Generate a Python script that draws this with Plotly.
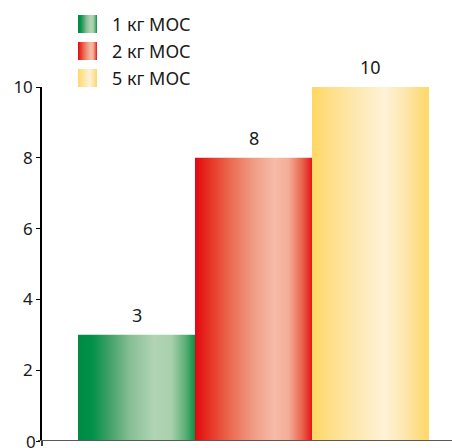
import plotly.graph_objects as go

# Data
categories = ["1 кг МОС", "2 кг МОС", "5 кг МОС"]
values = [3, 8, 10]
y_ticks = [0, 2, 4, 6, 8, 10]

# Horizontal gradient for each series (cylinder-like shading)
gradients = [
    [[0, "#008a43"], [0.12, "#009149"], [0.25, "#3a9e62"], [0.45, "#88bf95"],
     [0.65, "#b1d4b4"], [0.8, "#a9d0ad"], [0.92, "#5aae74"], [1, "#0b8f47"]],
    [[0, "#e30613"], [0.1, "#e52b1e"], [0.3, "#ea6a50"], [0.5, "#f09c85"],
     [0.68, "#f6bba8"], [0.8, "#f3ad98"], [0.92, "#e9614a"], [1, "#e4141b"]],
    [[0, "#ffd763"], [0.15, "#fedf86"], [0.4, "#fde9b4"], [0.62, "#fff2d6"],
     [0.8, "#fde6ad"], [0.92, "#fedc80"], [1, "#ffd966"]],
]

FONT = "Noto Sans"
W, H = 452, 448
M_L, M_R, M_T, M_B = 42, 0, 10, 7
plot_h = H - M_T - M_B
y_top_px = 87  # top of the value axis
y_dom_top = (H - M_B - y_top_px) / plot_h

fig = go.Figure()

# Bars drawn as gradient-filled rectangles on the category axis
half = 0.5
for i, (name, v, cs) in enumerate(zip(categories, values, gradients)):
    fig.add_trace(go.Scatter(
        x=[i - half, i + half, i + half, i - half, i - half],
        y=[0, 0, v, v, 0],
        mode="lines", fill="toself",
        fillgradient=dict(type="horizontal", colorscale=cs),
        line=dict(width=0), name=name, showlegend=False, hoverinfo="skip",
        xaxis="x", yaxis="y",
    ))
    fig.add_annotation(
        x=i, y=v, xref="x", yref="y", text=str(v), showarrow=False,
        yanchor="middle", yshift=20,
        font=dict(family=FONT, size=18, color="#1a1a1a"),
    )

# Legend drawn on a separate axis pair measured in pixels
leg_x0, leg_y0, sw_w, sw_h, row = 78, 15, 19, 18, 27
for k, (name, cs) in enumerate(zip(categories, gradients)):
    top = leg_y0 + k * row
    fig.add_trace(go.Scatter(
        x=[leg_x0, leg_x0 + sw_w, leg_x0 + sw_w, leg_x0, leg_x0],
        y=[top, top, top + sw_h, top + sw_h, top],
        mode="lines", fill="toself",
        fillgradient=dict(type="horizontal", colorscale=cs),
        line=dict(width=0), showlegend=False, hoverinfo="skip",
        xaxis="x2", yaxis="y2",
    ))
    fig.add_annotation(
        x=leg_x0 + 32, y=top + sw_h / 2, xref="x2", yref="y2",
        text=name, showarrow=False, xanchor="left", yanchor="middle",
        font=dict(family=FONT, size=18, color="#1a1a1a"),
    )

# Baseline extended slightly past the value axis
fig.add_shape(type="line", xref="paper", yref="y",
              x0=-4 / (W - M_L - M_R), x1=1, y0=0, y1=0,
              line=dict(color="#5a5a5a", width=2))
# Value axis tail below the baseline
fig.add_shape(type="line", xref="paper", yref="paper",
              x0=0, x1=0, y0=0, y1=-5 / plot_h,
              line=dict(color="#000000", width=1.5))

# Zero label at the foot of the value axis (partly below the page edge)
fig.add_annotation(
    x=0, y=y_ticks[0], xref="paper", yref="y", text=str(y_ticks[0]),
    showarrow=False, xanchor="right", yanchor="middle", xshift=-4,
    font=dict(family=FONT, size=17, color="#1a1a1a"),
)

bar_px = 117
fig.update_layout(
    template="none",
    width=W, height=H,
    margin=dict(l=M_L, r=M_R, t=M_T, b=M_B, autoexpand=False),
    paper_bgcolor="white", plot_bgcolor="rgba(0,0,0,0)",
    showlegend=False,
    xaxis=dict(
        range=[-0.5 - 36 / bar_px, 2.5 + 23 / bar_px],
        domain=[0, 1], showgrid=False, zeroline=False, showticklabels=False,
        ticks="", showline=False, fixedrange=True, automargin=False,
        anchor="y",
    ),
    yaxis=dict(
        range=[0, 10], domain=[0, y_dom_top], tickvals=y_ticks,
        ticktext=["" if t == y_ticks[0] else str(t) for t in y_ticks],
        ticks="outside", ticklen=4, tickwidth=1, tickcolor="#000000",
        showline=True, linecolor="#000000", linewidth=1.5,
        showgrid=False, zeroline=False, fixedrange=True, automargin=False,
        tickfont=dict(family=FONT, size=17, color="#1a1a1a"),
        anchor="x",
    ),
    xaxis2=dict(range=[M_L, W - M_R], domain=[0, 1], visible=False,
                fixedrange=True, anchor="y2"),
    yaxis2=dict(range=[H - M_B, M_T], domain=[0, 1], visible=False,
                fixedrange=True, anchor="x2"),
)

fig.write_html("out.html")
